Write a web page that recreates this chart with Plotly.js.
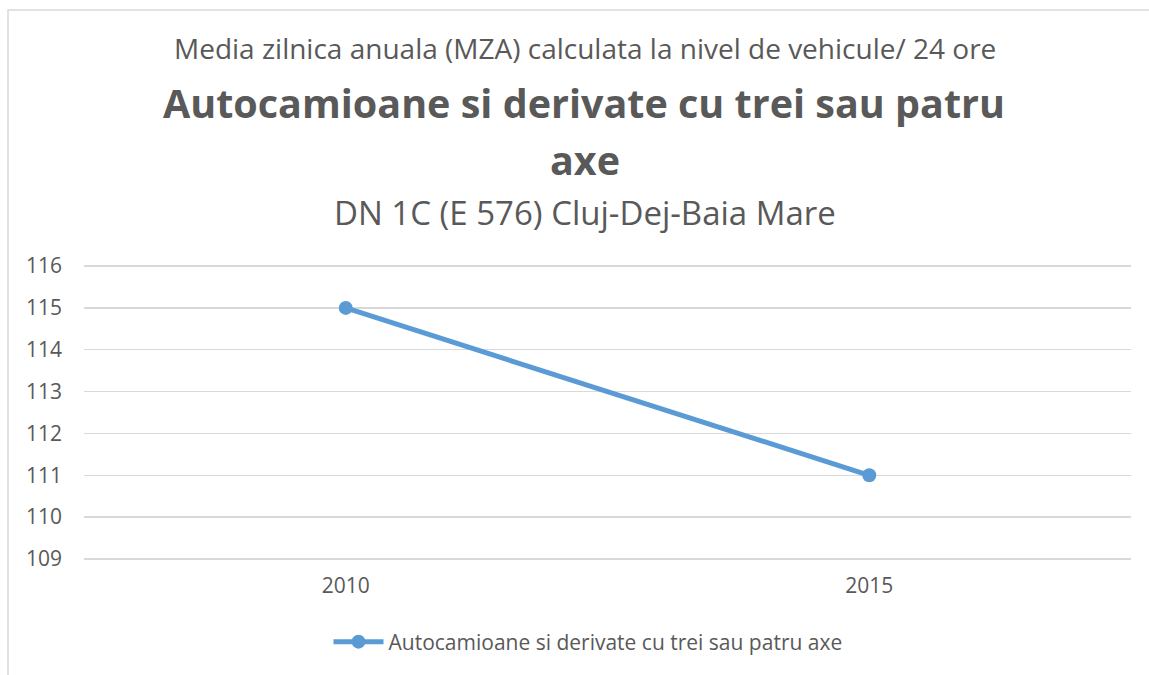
<!DOCTYPE html>
<html>
<head>
<meta charset="utf-8">
<script src="https://cdn.plot.ly/plotly-3.0.1.min.js"></script>
<style>html,body{margin:0;padding:0;background:#fff;}#chart{width:1149px;height:675px;}</style>
</head>
<body>
<div id="chart"></div>
<script>
const years = ['2010', '2015'];
const values = [115, 111];
const seriesName = 'Autocamioane si derivate cu trei sau patru axe';
const titleLine1 = 'Media zilnica anuala (MZA) calculata la nivel de vehicule/ 24 ore';
const titleLine2 = 'Autocamioane si derivate cu trei sau patru';
const titleLine3 = 'axe';
const titleLine4 = 'DN 1C (E 576) Cluj-Dej-Baia Mare';

const FONT = 'Open Sans, Noto Sans, sans-serif';
const TXT = '#595959';
const L = 84, R = 1131, T = 265, B = 560;
const px = X => (X - L) / (R - L);
const py = Y => (B - Y) / (B - T);

const trace = {
  x: years, y: values, type: 'scatter', mode: 'lines+markers', name: seriesName,
  line: {color: '#5b9bd5', width: 5},
  marker: {color: '#5b9bd5', size: 14}
};

const layout = {
  width: 1149, height: 675,
  margin: {l: L, r: 1149 - R, t: T, b: 675 - B},
  paper_bgcolor: '#ffffff', plot_bgcolor: '#ffffff',
  font: {family: FONT, color: TXT},
  showlegend: true,
  legend: {orientation: 'h', x: px(588), xanchor: 'center', y: py(642), yanchor: 'middle',
           font: {size: 21, color: TXT, family: FONT}, itemwidth: 50},
  xaxis: {type: 'category', range: [-0.5, 1.5], showgrid: false, zeroline: false, showline: false,
          ticks: '', tickfont: {size: 21, color: TXT}, ticklabelstandoff: 11, fixedrange: true},
  yaxis: {range: [108.975, 116.025], dtick: 1, tick0: 109, showgrid: true, gridcolor: '#d9d9d9', gridwidth: 1.5,
          zeroline: false, showline: false, ticks: '', tickfont: {size: 21, color: TXT},
          ticklabelstandoff: 21, fixedrange: true},
  annotations: [
    {text: titleLine1, xref: 'paper', yref: 'paper', x: px(585), y: py(48), xanchor: 'center', yanchor: 'middle',
     showarrow: false, font: {size: 28, color: TXT, family: FONT}},
    {text: '<b>' + titleLine2 + '</b>', xref: 'paper', yref: 'paper', x: px(584), y: py(103), xanchor: 'center', yanchor: 'middle',
     showarrow: false, font: {size: 39.5, color: TXT, family: FONT}},
    {text: '<b>' + titleLine3 + '</b>', xref: 'paper', yref: 'paper', x: px(585), y: py(160), xanchor: 'center', yanchor: 'middle',
     showarrow: false, font: {size: 39.5, color: TXT, family: FONT}},
    {text: titleLine4, xref: 'paper', yref: 'paper', x: px(585), y: py(212), xanchor: 'center', yanchor: 'middle',
     showarrow: false, font: {size: 33, color: TXT, family: FONT}}
  ],
  shapes: [
    {type: 'rect', xref: 'paper', yref: 'paper', x0: px(8), x1: px(1170), y0: py(10), y1: py(700),
     line: {color: '#d9d9d9', width: 1.5}, fillcolor: 'rgba(0,0,0,0)', layer: 'below'}
  ]
};

Plotly.newPlot('chart', [trace], layout, {displayModeBar: false, staticPlot: true});
</script>
</body>
</html>
